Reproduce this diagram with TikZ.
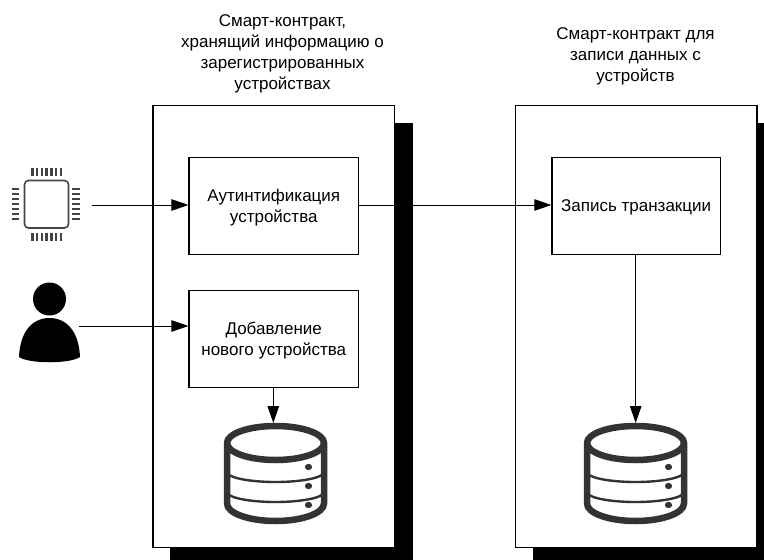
\documentclass[tikz,border=0pt]{standalone}
\usepackage{fontspec}
\setmainfont{Liberation Sans}
\usetikzlibrary{arrows.meta}
\definecolor{dbgray}{HTML}{333333}
\definecolor{chipgray}{HTML}{444444}
\tikzset{
  px/.style={x=1pt,y=-1pt},
  panel/.style={draw=black,line width=1.2pt,fill=white,minimum width=241.8pt,minimum height=441.5pt,inner sep=0pt,anchor=north west},
  panelshadow/.style={fill=black,draw=none,minimum width=243.5pt,minimum height=450pt,inner sep=0pt,anchor=north west},
  stepbox/.style={draw=black,line width=1.2pt,fill=white,inner sep=0pt,anchor=north west},
  boxtext/.style={align=center,inner sep=0pt,font=\fontsize{17pt}{21pt}\selectfont,yshift=-1.8pt},
  caption/.style={align=center,inner sep=0pt,font=\fontsize{17pt}{21pt}\selectfont},
  conn/.style={line width=0.9pt,-{Triangle[length=17pt,width=11.5pt]},shorten >=0pt},
  dbline/.style={draw=dbgray,line width=6.5pt},
  dbthin/.style={draw=dbgray,line width=2.4pt},
  pin/.style={draw=chipgray,line width=2.4pt},
  pics/dbicon/.style={code={
    \draw[dbline,fill=white] (-48.5,-30.5) arc[start angle=180,end angle=360,x radius=48.5,y radius=17]
       -- (48.5,30) arc[start angle=0,end angle=180,x radius=48.5,y radius=17.5] -- cycle;
    \draw[dbline] (-48.5,-30.5) arc[start angle=180,end angle=0,x radius=48.5,y radius=17];
    \draw[dbthin] (-48.5,-1.5) arc[start angle=180,end angle=0,x radius=48.5,y radius=10];
    \draw[dbthin] (-48.5,18.5) arc[start angle=180,end angle=0,x radius=48.5,y radius=10];
    \fill[dbgray] (33,-6.5) circle[x radius=3.6,y radius=3.2];
    \fill[dbgray] (33,12.5) circle[x radius=3.6,y radius=3.2];
    \fill[dbgray] (33,31.5) circle[x radius=3.6,y radius=3.2];
  }}
}
\begin{document}
\begin{tikzpicture}[px]
\useasboundingbox (0,0) rectangle (764,560);
\clip (0,0) rectangle (764,560);
% panels
\node[panelshadow] (shadowA) at (169.5,122.5) {};
\node[panelshadow] (shadowB) at (532.5,122.5) {};
\node[panel] (panelA) at (152.3,105) {};
\node[panel] (panelB) at (514.6,105) {};
% captions
\node[caption] (capA) at (282.5,54) {Смарт-контракт,\\хранящий информацию о\\зарегистрированных\\устройствах};
\node[caption] (capB) at (635.5,56) {Смарт-контракт для\\записи данных с\\устройств};
% boxes
\node[stepbox,minimum width=169.5pt,minimum height=97pt,label={[boxtext]center:Аутинтификация\\устройства}] (auth) at (188.4,156.6) {};
\node[stepbox,minimum width=169.5pt,minimum height=96.5pt,label={[boxtext]center:Добавление\\нового устройства}] (add) at (188.4,290) {};
\node[stepbox,minimum width=168.5pt,minimum height=97pt,label={[boxtext]center:Запись транзакции}] (rec) at (551.3,156.6) {};
% chip
\draw[draw=chipgray,line width=1.6pt,rounded corners=4pt,fill=white] (24.5,180.5) rectangle (68.5,228);
\foreach \k in {0,...,6}{
  \draw[pin] (32.5+\k*4.7,168) -- (32.5+\k*4.7,176);
  \draw[pin] (32.5+\k*4.7,233) -- (32.5+\k*4.7,241);
  \draw[pin] (12,189+\k*5) -- (19,189+\k*5);
  \draw[pin] (72,189+\k*5) -- (80,189+\k*5);
}
\coordinate (chipout) at (92,205);
% person
\fill[black] (49.5,299) circle[radius=16.5];
\fill[black] (19,357) .. controls (20,332) and (32,318) .. (49.5,318) .. controls (67,318) and (79,332) .. (80,357) .. controls (70,364) and (29,364) .. (19,357) -- cycle;
\coordinate (personout) at (79,326);
% databases
\path (275.5,473.5) pic {dbicon};
\path (635.5,473.5) pic {dbicon};
\coordinate (dbA) at (273.3,423);
\coordinate (dbB) at (635.7,423);
% connectors
\draw[conn] (chipout) -- (auth.west |- chipout);
\draw[conn] (personout) -- (add.west |- personout);
\draw[conn] (auth.east |- chipout) -- (rec.west |- chipout);
\draw[conn] (add.south -| dbA) -- (dbA);
\draw[conn] (rec.south -| dbB) -- (dbB);
\end{tikzpicture}
\end{document}
